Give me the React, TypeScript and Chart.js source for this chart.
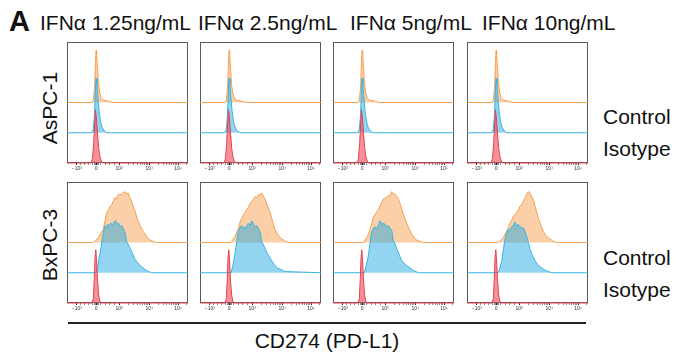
import React, { useEffect, useRef } from 'react';
import { Chart, registerables } from 'chart.js';
Chart.register(...registerables);

// ---------- text ----------
const PANEL_LETTER = 'A';
const COLUMN_TITLES = ['IFNα 1.25ng/mL', 'IFNα 2.5ng/mL', 'IFNα 5ng/mL', 'IFNα 10ng/mL'];
const ROW_LABELS = ['AsPC-1', 'BxPC-3'];
const SERIES_LABELS = ['Control', 'Isotype'];
const X_TITLE = 'CD274 (PD-L1)';

// ---------- axis (biexponential display units) ----------
const TICK_VALUES = [-1000, 0, 1000, 10000, 100000];
const TICK_LABELS = ['−10³', '0', '10³', '10⁴', '10⁵'];
const TICK_POSITIONS = [-0.64, 0, 0.77, 1.78, 2.74];
const MINOR_VALUES = [-800, -600, -400, -200, -100, -50, 50, 100, 200, 400, 600, 800,
  2000, 3000, 4000, 5000, 6000, 7000, 8000, 9000,
  20000, 30000, 40000, 50000, 60000, 70000, 80000, 90000, 200000];
const X_MIN = -0.97;
const X_MAX = 3.07;

// offsets of the stacked histograms (fraction of panel height)
const OFFSET_ISOTYPE = 0;
const OFFSET_CONTROL = 0.25;
const OFFSET_IFN = 0.5;

// ---------- AsPC-1 histograms (x in display units, h = height as fraction of panel) ----------
const ASPC_IFN_X = [-0.97, -0.14, -0.09, -0.05, -0.02, 0.0, 0.02, 0.05, 0.08, 0.12, 0.17, 0.24, 0.33, 0.45, 0.55, 3.07];
const ASPC_IFN_H = [0, 0, 0.02, 0.12, 0.32, 0.43, 0.40, 0.28, 0.16, 0.08, 0.04, 0.02, 0.015, 0.01, 0, 0];
const ASPC_CTRL_X = [-0.97, -0.14, -0.09, -0.05, -0.02, 0.0, 0.03, 0.06, 0.1, 0.15, 0.21, 0.28, 0.36, 3.07];
const ASPC_CTRL_H = [0, 0, 0.03, 0.15, 0.36, 0.45, 0.40, 0.30, 0.18, 0.09, 0.04, 0.015, 0, 0];
const ASPC_ISO_X = [-0.97, -0.16, -0.12, -0.08, -0.04, -0.02, 0.01, 0.05, 0.09, 0.13, 0.18, 0.22, 3.07];
const ASPC_ISO_H = [0, 0, 0.04, 0.16, 0.36, 0.44, 0.38, 0.24, 0.12, 0.05, 0.015, 0, 0];

// ---------- BxPC-3 histograms ----------
const BXPC_ISO_X = [-0.97, -0.13, -0.09, -0.06, -0.03, -0.01, 0.02, 0.05, 0.09, 0.14, 3.07];
const BXPC_ISO_H = [0, 0, 0.04, 0.2, 0.4, 0.44, 0.34, 0.18, 0.06, 0, 0];

const BXPC_IFN1_X = [-0.97, -0.12, -0.05, 0.05, 0.15, 0.24, 0.3, 0.36, 0.42, 0.47, 0.52, 0.57, 0.63, 0.68, 0.72, 0.8, 0.85, 0.9, 0.97, 1.02, 1.07, 1.13, 1.2, 1.3, 1.38, 1.47, 1.55, 1.63, 1.72, 1.8, 1.95, 2.05, 3.07];
const BXPC_IFN1_H = [0, 0, 0.01, 0.03, 0.07, 0.11, 0.18, 0.25, 0.27, 0.3, 0.31, 0.34, 0.37, 0.36, 0.39, 0.4, 0.39, 0.41, 0.42, 0.4, 0.41, 0.37, 0.33, 0.26, 0.19, 0.14, 0.1, 0.07, 0.04, 0.02, 0.005, 0, 0];
const BXPC_CTRL1_X = [-0.97, 0.0, 0.05, 0.1, 0.16, 0.22, 0.27, 0.31, 0.35, 0.4, 0.45, 0.5, 0.55, 0.6, 0.65, 0.7, 0.75, 0.8, 0.86, 0.92, 0.97, 1.02, 1.08, 1.14, 1.2, 1.28, 1.36, 1.44, 1.52, 1.62, 1.72, 1.85, 3.07];
const BXPC_CTRL1_H = [0, 0, 0.04, 0.12, 0.2, 0.3, 0.36, 0.39, 0.37, 0.4, 0.39, 0.41, 0.39, 0.42, 0.43, 0.4, 0.41, 0.38, 0.39, 0.36, 0.33, 0.26, 0.23, 0.2, 0.17, 0.12, 0.09, 0.07, 0.05, 0.03, 0.015, 0, 0];

const BXPC_IFN2_X = [-0.97, 0.05, 0.09, 0.2, 0.31, 0.37, 0.42, 0.48, 0.53, 0.58, 0.64, 0.7, 0.76, 0.82, 0.87, 0.93, 0.98, 1.03, 1.07, 1.13, 1.2, 1.27, 1.37, 1.45, 1.53, 1.62, 1.7, 1.87, 2.0, 3.07];
const BXPC_IFN2_H = [0, 0, 0.01, 0.05, 0.12, 0.17, 0.2, 0.23, 0.25, 0.27, 0.29, 0.32, 0.34, 0.36, 0.38, 0.37, 0.4, 0.39, 0.41, 0.39, 0.36, 0.31, 0.25, 0.18, 0.11, 0.07, 0.04, 0.01, 0, 0];
const BXPC_CTRL2_X = [-0.97, 0.07, 0.12, 0.2, 0.26, 0.31, 0.36, 0.42, 0.47, 0.53, 0.58, 0.64, 0.7, 0.76, 0.82, 0.87, 0.93, 0.98, 1.04, 1.09, 1.15, 1.2, 1.28, 1.37, 1.45, 1.53, 1.62, 1.7, 1.87, 3.07];
const BXPC_CTRL2_H = [0, 0, 0.05, 0.16, 0.26, 0.34, 0.37, 0.39, 0.36, 0.38, 0.37, 0.41, 0.39, 0.43, 0.4, 0.38, 0.39, 0.37, 0.33, 0.26, 0.23, 0.2, 0.16, 0.12, 0.09, 0.06, 0.04, 0.03, 0.01, 0];

const BXPC_IFN3_X = [-0.97, 0.02, 0.08, 0.18, 0.27, 0.33, 0.38, 0.45, 0.54, 0.62, 0.71, 0.8, 0.88, 0.93, 0.99, 1.05, 1.1, 1.16, 1.21, 1.27, 1.32, 1.4, 1.49, 1.57, 1.66, 1.74, 1.82, 2.04, 3.07];
const BXPC_IFN3_H = [0, 0, 0.01, 0.05, 0.11, 0.16, 0.21, 0.24, 0.27, 0.31, 0.36, 0.37, 0.39, 0.38, 0.42, 0.4, 0.4, 0.38, 0.36, 0.32, 0.28, 0.22, 0.16, 0.11, 0.07, 0.04, 0.02, 0, 0];
const BXPC_CTRL3_X = [-0.97, 0.08, 0.12, 0.21, 0.27, 0.32, 0.37, 0.43, 0.48, 0.54, 0.6, 0.65, 0.71, 0.77, 0.83, 0.88, 0.93, 0.99, 1.04, 1.1, 1.16, 1.24, 1.32, 1.4, 1.49, 1.6, 1.71, 1.88, 3.07];
const BXPC_CTRL3_H = [0, 0, 0.04, 0.14, 0.25, 0.34, 0.36, 0.38, 0.36, 0.39, 0.43, 0.4, 0.41, 0.4, 0.38, 0.39, 0.37, 0.35, 0.27, 0.24, 0.2, 0.15, 0.1, 0.08, 0.06, 0.04, 0.02, 0, 0];

const BXPC_IFN4_X = [-0.97, 0.06, 0.12, 0.24, 0.3, 0.36, 0.42, 0.47, 0.53, 0.58, 0.64, 0.69, 0.75, 0.8, 0.86, 0.91, 0.97, 1.02, 1.08, 1.13, 1.19, 1.25, 1.3, 1.36, 1.41, 1.5, 1.58, 1.66, 1.74, 1.91, 2.05, 3.07];
const BXPC_IFN4_H = [0, 0, 0.01, 0.04, 0.07, 0.1, 0.13, 0.16, 0.19, 0.22, 0.23, 0.25, 0.27, 0.3, 0.31, 0.34, 0.37, 0.4, 0.42, 0.41, 0.38, 0.35, 0.3, 0.25, 0.2, 0.14, 0.09, 0.06, 0.04, 0.01, 0, 0];
const BXPC_CTRL4_X = [-0.97, 0.07, 0.12, 0.19, 0.25, 0.3, 0.36, 0.41, 0.47, 0.52, 0.58, 0.63, 0.69, 0.74, 0.8, 0.86, 0.91, 0.97, 1.02, 1.08, 1.13, 1.2, 1.3, 1.38, 1.47, 1.58, 1.69, 1.86, 3.07];
const BXPC_CTRL4_H = [0, 0, 0.03, 0.1, 0.2, 0.28, 0.33, 0.36, 0.35, 0.38, 0.39, 0.42, 0.38, 0.4, 0.38, 0.37, 0.37, 0.34, 0.3, 0.25, 0.2, 0.15, 0.1, 0.07, 0.05, 0.03, 0.015, 0, 0];

type Hist = { x: number[]; h: number[] };
const PANELS: { iso: Hist; ctrl: Hist; ifn: Hist }[][] = [
  [0, 1, 2, 3].map(() => ({
    iso: { x: ASPC_ISO_X, h: ASPC_ISO_H },
    ctrl: { x: ASPC_CTRL_X, h: ASPC_CTRL_H },
    ifn: { x: ASPC_IFN_X, h: ASPC_IFN_H },
  })),
  [
    { iso: { x: BXPC_ISO_X, h: BXPC_ISO_H }, ctrl: { x: BXPC_CTRL1_X, h: BXPC_CTRL1_H }, ifn: { x: BXPC_IFN1_X, h: BXPC_IFN1_H } },
    { iso: { x: BXPC_ISO_X, h: BXPC_ISO_H }, ctrl: { x: BXPC_CTRL2_X, h: BXPC_CTRL2_H }, ifn: { x: BXPC_IFN2_X, h: BXPC_IFN2_H } },
    { iso: { x: BXPC_ISO_X, h: BXPC_ISO_H }, ctrl: { x: BXPC_CTRL3_X, h: BXPC_CTRL3_H }, ifn: { x: BXPC_IFN3_X, h: BXPC_IFN3_H } },
    { iso: { x: BXPC_ISO_X, h: BXPC_ISO_H }, ctrl: { x: BXPC_CTRL4_X, h: BXPC_CTRL4_H }, ifn: { x: BXPC_IFN4_X, h: BXPC_IFN4_H } },
  ],
];

// ---------- layout / style ----------
const FONT = '"Liberation Sans", Arial, Helvetica, sans-serif';
const BOX_LEFT = [67, 200, 333, 467];
const BOX_TOP = [42, 182];
const BOX_W = 121;
const BOX_H = 121;
const AXIS_H = 12;

const ISO_LINE = '#e8404f';
const ISO_FILL = 'rgba(238,70,85,0.6)';
const CTRL_LINE = '#35b6e3';
const CTRL_FILL = 'rgba(40,170,225,0.5)';
const IFN_LINE = '#f5a04f';
const IFN_FILL = 'rgba(247,160,80,0.5)';

function toDisplay(v: number): number {
  const n = TICK_VALUES.length;
  let i = 0;
  while (i < n - 2 && v > TICK_VALUES[i + 1]) i++;
  const a = TICK_VALUES[i], b = TICK_VALUES[i + 1];
  const pa = TICK_POSITIONS[i], pb = TICK_POSITIONS[i + 1];
  if (a > 0) {
    return pa + (Math.log10(v) - Math.log10(a)) / (Math.log10(b) - Math.log10(a)) * (pb - pa);
  }
  return pa + (v - a) / (b - a) * (pb - pa);
}

const ALL_TICKS = [
  ...TICK_VALUES.map((v, i) => ({ pos: TICK_POSITIONS[i], label: TICK_LABELS[i], major: true })),
  ...MINOR_VALUES.map(v => ({ pos: toDisplay(v), label: '', major: false })),
].filter(t => t.pos > X_MIN && t.pos < X_MAX);

const boxPlugin = {
  id: 'panelBox',
  beforeDatasetsDraw(chart: any) {
    const { ctx, chartArea: a } = chart;
    ctx.save();
    ctx.strokeStyle = '#5a5a5a';
    ctx.lineWidth = 1;
    ctx.strokeRect(a.left + 0.5, a.top + 0.5, a.right - a.left - 1, a.bottom - a.top - 1);
    ctx.restore();
  },
};

function Panel({ row, col }: { row: number; col: number }) {
  const ref = useRef<HTMLCanvasElement>(null);
  useEffect(() => {
    const p = PANELS[row][col];
    const mk = (hist: Hist, off: number, line: string, fill: string) => ({
      data: hist.x.map((x, i) => ({ x, y: off + hist.h[i] })),
      borderColor: line,
      backgroundColor: fill,
      borderWidth: 1,
      pointRadius: 0,
      tension: 0,
      fill: { value: off },
      clip: 3,
    });
    const chart = new Chart(ref.current!, {
      type: 'line',
      data: {
        datasets: [
          mk(p.iso, OFFSET_ISOTYPE, ISO_LINE, ISO_FILL),
          mk(p.ctrl, OFFSET_CONTROL, CTRL_LINE, CTRL_FILL),
          mk(p.ifn, OFFSET_IFN, IFN_LINE, IFN_FILL),
        ] as any,
      },
      options: {
        animation: false,
        responsive: false,
        events: [],
        layout: { padding: 0 },
        plugins: { legend: { display: false }, tooltip: { enabled: false } },
        scales: {
          x: {
            type: 'linear',
            min: X_MIN,
            max: X_MAX,
            afterBuildTicks: (s: any) => { s.ticks = ALL_TICKS.map(t => ({ value: t.pos })); },
            afterFit: (s: any) => { s.height = AXIS_H; },
            ticks: {
              autoSkip: false,
              maxRotation: 0,
              minRotation: 0,
              padding: 1,
              color: '#333',
              font: { size: 5, family: FONT },
              callback: (_v: any, i: number) => ALL_TICKS[i] ? ALL_TICKS[i].label : '',
            },
            grid: {
              display: true,
              drawOnChartArea: false,
              drawTicks: true,
              tickLength: 2,
              color: (c: any) => (ALL_TICKS[c.index] && ALL_TICKS[c.index].major ? '#222' : '#888'),
            },
            border: { display: false },
          },
          y: { display: false, min: 0, max: 1 },
        },
      } as any,
      plugins: [boxPlugin],
    });
    return () => chart.destroy();
  }, [row, col]);
  return (
    <canvas
      ref={ref}
      width={BOX_W}
      height={BOX_H + AXIS_H}
      style={{ position: 'absolute', left: BOX_LEFT[col], top: BOX_TOP[row], width: BOX_W, height: BOX_H + AXIS_H }}
    />
  );
}

const txt = (extra: React.CSSProperties): React.CSSProperties => ({
  position: 'absolute',
  fontFamily: FONT,
  fontSize: 21,
  lineHeight: 1,
  whiteSpace: 'nowrap',
  color: '#111',
  ...extra,
});

const TITLE_LEFT = [40, 198, 350, 482];
const SERIES_TOP = [[106, 138], [247, 279]];
const ROW_CENTER_Y = [108, 245];

export default function App() {
  return (
    <div style={{ position: 'absolute', left: 0, top: 0, width: 676, height: 353, background: '#fff', overflow: 'hidden' }}>
      <div style={txt({ left: 9, top: 7, fontSize: 29, fontWeight: 'bold' })}>{PANEL_LETTER}</div>
      {COLUMN_TITLES.map((t, i) => (
        <div key={t} style={txt({ left: TITLE_LEFT[i], top: 12 })}>{t}</div>
      ))}
      {ROW_LABELS.map((t, r) => (
        <div key={t} style={txt({ left: 49, top: ROW_CENTER_Y[r], transform: 'translate(-50%, -50%) rotate(-90deg)' })}>{t}</div>
      ))}
      {SERIES_TOP.map((tops, r) =>
        SERIES_LABELS.map((s, k) => (
          <div key={r + s} style={txt({ left: 603, top: tops[k] })}>{s}</div>
        ))
      )}
      {[0, 1].map(r => [0, 1, 2, 3].map(c => <Panel key={r + '-' + c} row={r} col={c} />))}
      <div style={{ position: 'absolute', left: 68, top: 322, width: 518, height: 1.5, background: '#222' }} />
      <div style={txt({ left: 327, top: 330, transform: 'translateX(-50%)' })}>{X_TITLE}</div>
    </div>
  );
}
